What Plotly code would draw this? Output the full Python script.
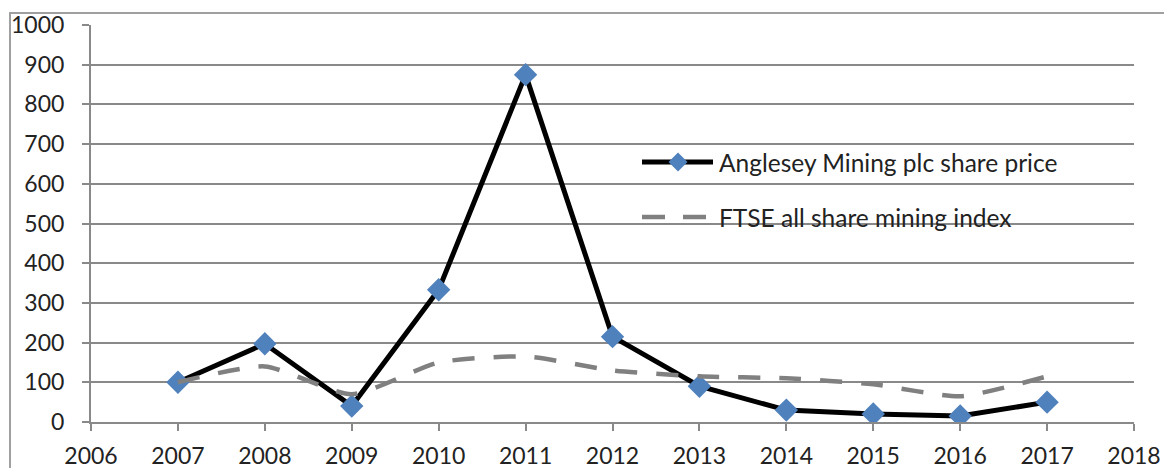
import plotly.graph_objects as go

years = [2007, 2008, 2009, 2010, 2011, 2012, 2013, 2014, 2015, 2016, 2017]
anglesey = [100, 197, 40, 333, 875, 215, 90, 30, 20, 15, 50]
ftse = [100, 140, 70, 150, 165, 130, 115, 110, 95, 65, 115]
x_ticks = list(range(2006, 2019))
y_ticks = list(range(0, 1001, 100))
series_names = ["Anglesey Mining plc share price", "FTSE all share mining index"]

FONT = "Lato"
BLUE = "#4F81BD"
GREY = "#808080"
AX = "#898989"
DASH = "22px,19px"

# plot area in pixels
L, R, T, B = 91, 1134, 25, 422
W, H = R - L, B - T
def px(x):
    return (x - L) / W
def py(y):
    return (B - y) / H

fig = go.Figure()
fig.add_trace(go.Scatter(
    x=years, y=anglesey, mode="lines+markers", name=series_names[0],
    line=dict(color="black", width=5),
    marker=dict(symbol="diamond", size=18, color=BLUE, line=dict(width=0)),
    showlegend=False,
))
fig.add_trace(go.Scatter(
    x=years, y=ftse, mode="lines", name=series_names[1],
    line=dict(color=GREY, width=4.5, dash=DASH, shape="spline", smoothing=0.6),
    showlegend=False,
))

# custom legend (symbol samples + text)
lx0, lx1, lxm = 642, 713, 678
ly1, ly2 = 162, 217
dx, dy = 9.5 / W, 9.5 / H
shapes = [
    dict(type="rect", xref="paper", yref="paper",
         x0=px(10), x1=1.2, y0=-0.3, y1=py(13),
         line=dict(color="#A0A0A0", width=2), fillcolor="rgba(0,0,0,0)", layer="below"),
    dict(type="line", xref="paper", yref="paper",
         x0=px(lx0), x1=px(lx1), y0=py(ly1), y1=py(ly1),
         line=dict(color="black", width=5)),
    dict(type="path", xref="paper", yref="paper",
         path=f"M {px(lxm)-dx},{py(ly1)} L {px(lxm)},{py(ly1)+dy} L {px(lxm)+dx},{py(ly1)} L {px(lxm)},{py(ly1)-dy} Z",
         fillcolor=BLUE, line=dict(width=0)),
    dict(type="line", xref="paper", yref="paper",
         x0=px(lx0), x1=px(lx1), y0=py(ly2), y1=py(ly2),
         line=dict(color=GREY, width=4.5, dash="23px,18px")),
]
annotations = [
    dict(xref="paper", yref="paper", x=px(717), y=py(ly1), xanchor="left", yanchor="middle",
         text=series_names[0], showarrow=False, font=dict(size=24.5, family=FONT, color="#222")),
    dict(xref="paper", yref="paper", x=px(717), y=py(ly2), xanchor="left", yanchor="middle",
         text=series_names[1], showarrow=False, font=dict(size=24.5, family=FONT, color="#222")),
]

fig.update_layout(
    width=1164, height=468,
    margin=dict(l=L, r=1164 - R, t=T, b=468 - B),
    plot_bgcolor="white", paper_bgcolor="white",
    font=dict(family=FONT, size=23, color="#222"),
    showlegend=False,
    xaxis=dict(
        range=[2006, 2018], tickvals=x_ticks, ticktext=[str(v) for v in x_ticks],
        showgrid=False, showline=True, linecolor=AX, linewidth=2,
        ticks="outside", ticklen=7, tickcolor=AX, tickwidth=2,
        ticklabelstandoff=5,
        zeroline=False, automargin=False,
    ),
    yaxis=dict(
        range=[0, 1000], tickvals=y_ticks,
        showgrid=True, gridcolor=AX, gridwidth=2,
        showline=True, linecolor=AX, linewidth=2,
        ticks="outside", ticklen=7, tickcolor=AX, tickwidth=2,
        ticklabelstandoff=13,
        zeroline=False, automargin=False,
    ),
    shapes=shapes,
    annotations=annotations,
)

fig.write_html("out.html", config={"displayModeBar": False},
               post_script="document.body.style.margin='0';")
